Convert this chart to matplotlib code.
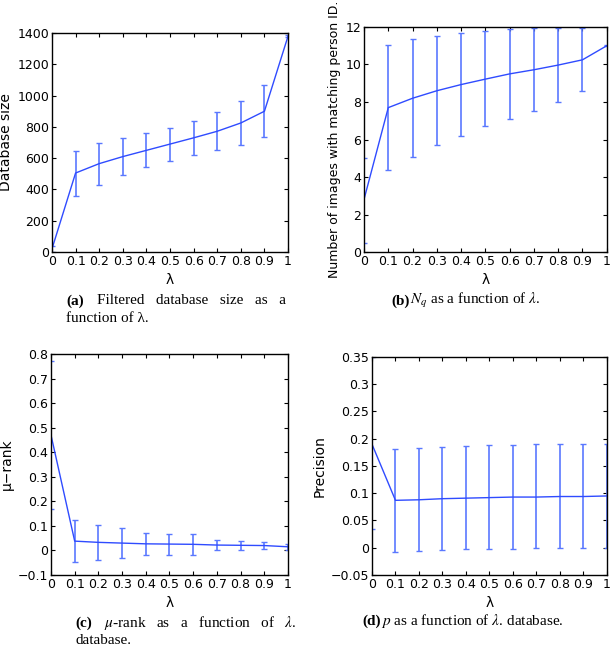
import numpy as np
import matplotlib.pyplot as plt

plt.rcParams['mathtext.fontset'] = 'stix'

lam = [0, 0.1, 0.2, 0.3, 0.4, 0.5, 0.6, 0.7, 0.8, 0.9, 1.0]

# (a) filtered database size
db_mean = [20, 505, 565, 610, 650, 690, 730, 772, 825, 900, 1380]
db_low = [0, 360, 430, 495, 545, 585, 620, 652, 683, 735, 1372]
db_high = [40, 645, 695, 730, 760, 795, 838, 893, 963, 1065, 1388]

# (b) N_q
nq_mean = [2.8, 7.7, 8.2, 8.6, 8.93, 9.22, 9.5, 9.72, 9.97, 10.25, 11.0]
nq_low = [0.5, 4.4, 5.05, 5.7, 6.2, 6.7, 7.1, 7.5, 8.0, 8.6, 10.97]
nq_high = [5.0, 11.05, 11.35, 11.5, 11.7, 11.8, 11.9, 11.95, 11.95, 11.95, 11.03]

# (c) mu-rank
mu_mean = [0.47, 0.038, 0.033, 0.03, 0.027, 0.026, 0.025, 0.022, 0.021, 0.02, 0.015]
mu_low = [0.17, -0.047, -0.038, -0.03, -0.018, -0.017, -0.017, 0.003, 0.003, 0.005, 0.0]
mu_high = [0.77, 0.123, 0.105, 0.09, 0.072, 0.069, 0.067, 0.042, 0.04, 0.035, 0.027]

# (d) precision
p_mean = [0.19, 0.087, 0.088, 0.09, 0.091, 0.092, 0.093, 0.093, 0.094, 0.094, 0.095]
p_low = [0.035, -0.008, -0.006, -0.004, -0.003, -0.003, -0.002, -0.001, -0.001, -0.001, 0.0]
p_high = [0.35, 0.182, 0.183, 0.184, 0.186, 0.188, 0.189, 0.19, 0.191, 0.191, 0.19]

xticks = [0, 0.1, 0.2, 0.3, 0.4, 0.5, 0.6, 0.7, 0.8, 0.9, 1]
xticklabels = ['0', '0.1', '0.2', '0.3', '0.4', '0.5', '0.6', '0.7', '0.8', '0.9', '1']

line_col = '#2f4bff'
bar_col = '#5a78ff'

fig = plt.figure(figsize=(6.10, 6.49), dpi=100)


def panel(rect, mean, low, high, ylim, yticks, ylabels, ylabel, ylsize=10):
    ax = fig.add_axes(rect)
    mean = np.array(mean)
    err = [mean - np.array(low), np.array(high) - mean]
    ax.errorbar(lam, mean, yerr=err, color=line_col, ecolor=bar_col, lw=1.0,
                elinewidth=1.2, capsize=2, capthick=1.0)
    ax.set_xlim(0, 1)
    ax.set_ylim(*ylim)
    ax.set_xticks(xticks)
    ax.set_xticklabels(xticklabels)
    ax.set_yticks(yticks)
    ax.set_yticklabels(ylabels)
    ax.tick_params(direction='in', top=True, right=True, length=3, width=0.8,
                   labelsize=9, pad=2)
    for s in ax.spines.values():
        s.set_linewidth(1.0)
    ax.set_xlabel('λ', fontsize=10, labelpad=4)
    ax.set_ylabel(ylabel, fontsize=ylsize, labelpad=3)
    return ax


panel([0.0852, 0.6117, 0.387, 0.3374], db_mean, db_low, db_high, (0, 1400),
      [0, 200, 400, 600, 800, 1000, 1200, 1400],
      ['0', '200', '400', '600', '800', '1000', '1200', '1400'], 'Database size')
panel([0.5967, 0.6117, 0.398, 0.3467], nq_mean, nq_low, nq_high, (0, 12),
      [0, 2, 4, 6, 8, 10, 12], ['0', '2', '4', '6', '8', '10', '12'],
      'Number of images with matching person ID.', ylsize=9)
panel([0.0836, 0.114, 0.3885, 0.3405], mu_mean, mu_low, mu_high, (-0.1, 0.8),
      [-0.1, 0, 0.1, 0.2, 0.3, 0.4, 0.5, 0.6, 0.7, 0.8],
      ['\u22120.1', '0', '0.1', '0.2', '0.3', '0.4', '0.5', '0.6', '0.7', '0.8'], 'μ\u2212rank')
panel([0.6098, 0.114, 0.385, 0.336], p_mean, p_low, p_high, (-0.05, 0.35),
      [-0.05, 0, 0.05, 0.1, 0.15, 0.2, 0.25, 0.3, 0.35],
      ['\u22120.05', '0', '0.05', '0.1', '0.15', '0.2', '0.25', '0.3', '0.35'], 'Precision')

W, H = 610.0, 649.0


def cap(x, y, s, bold=False):
    fig.text(x / W, 1 - y / H, s, va='center', ha='left', family='Liberation Serif',
             fontsize=11, fontweight='bold' if bold else 'normal')


cap(66, 301, '(a)', bold=True)
cap(97, 301, 'Filtered   database   size   as   a')
cap(66, 319, 'function of λ.')
cap(391, 301, '(b)', bold=True)
cap(410, 301, r'$N_q$ as a function of $\lambda$.')
cap(75, 623, '(c)', bold=True)
cap(104, 623, r'$\mu$-rank   as   a   function   of   $\lambda$.')
cap(75, 641, 'database.')
cap(362, 621, '(d)', bold=True)
cap(381, 621, r'$p$ as a function of $\lambda$. database.')

fig.savefig('out.png', dpi=100)
